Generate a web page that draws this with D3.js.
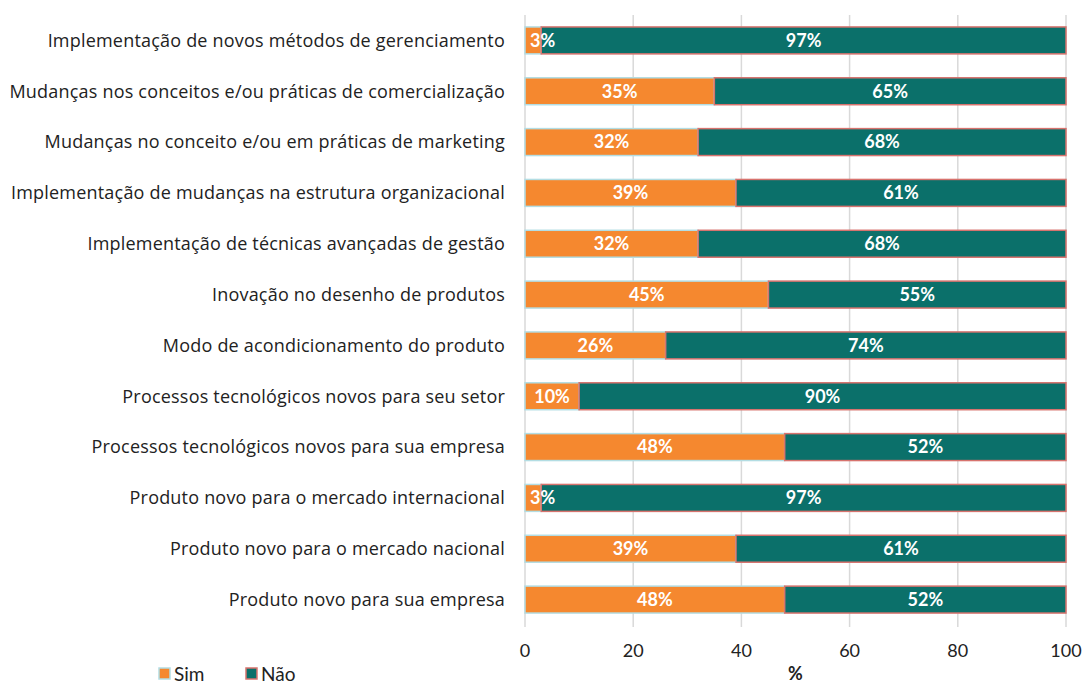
<!DOCTYPE html>
<html>
<head>
<meta charset="utf-8">
<script src="https://cdn.jsdelivr.net/npm/d3@7"></script>
<style>
  body { margin: 0; background: #fff; }
  text { font-family: Lato, "Open Sans", sans-serif; }
</style>
</head>
<body>
<div id="plot"></div>
<script>
// categories top to bottom
let categories = [
  "Implementação de novos métodos de gerenciamento",
  "Mudanças nos conceitos e/ou práticas de comercialização",
  "Mudanças no conceito e/ou em práticas de marketing",
  "Implementação de mudanças na estrutura organizacional",
  "Implementação de técnicas avançadas de gestão",
  "Inovação no desenho de produtos",
  "Modo de acondicionamento do produto",
  "Processos tecnológicos novos para seu setor",
  "Processos tecnológicos novos para sua empresa",
  "Produto novo para o mercado internacional",
  "Produto novo para o mercado nacional",
  "Produto novo para sua empresa"
]
let sim = [3, 35, 32, 39, 32, 45, 26, 10, 48, 3, 39, 48]
let nao = [97, 65, 68, 61, 68, 55, 74, 90, 52, 97, 61, 52]
let xTicks = [0, 20, 40, 60, 80, 100]
let seriesNames = ["Sim", "Não"]

let width = 1083, height = 684
let plotLeft = 525, plotRight = 1066, plotTop = 15, plotBottom = 625

let svg = d3.select('#plot').append('svg')
.attr('width', width)
.attr('height', height)

let x = d3.scaleLinear().domain([0, 100]).range([plotLeft, plotRight])
let y = d3.scaleBand().domain(categories).range([plotTop, plotBottom]).paddingInner(0.47).paddingOuter(0.235)

// gridlines
svg.append('g')
.selectAll('line').data(xTicks).enter()
.append('line')
.attr('x1', d => x(d)).attr('x2', d => x(d))
.attr('y1', plotTop).attr('y2', plotBottom + 2)
.attr('stroke', '#d9d9d9')
.attr('stroke-width', 1.5)

let rows = categories.map((c, i) => ({cat: c, sim: sim[i], nao: nao[i]}))

// Sim bars
svg.append('g')
.selectAll('rect').data(rows).enter()
.append('rect')
.attr('x', x(0))
.attr('y', d => y(d.cat))
.attr('width', d => x(d.sim) - x(0))
.attr('height', y.bandwidth())
.attr('fill', '#f5882f')
.attr('stroke', '#b3dde3')
.attr('stroke-width', 1.5)

// Nao bars
svg.append('g')
.selectAll('rect').data(rows).enter()
.append('rect')
.attr('x', d => x(d.sim))
.attr('y', d => y(d.cat))
.attr('width', d => x(d.sim + d.nao) - x(d.sim))
.attr('height', y.bandwidth())
.attr('fill', '#0b706a')
.attr('stroke', '#d7736e')
.attr('stroke-width', 1.5)

// value labels
let labels = svg.append('g')
.style('font-size', '18px')
.style('font-weight', 'bold')
.attr('fill', '#fff')

labels.selectAll('.simlab').data(rows).enter()
.append('text')
.attr('x', d => d.sim < 6 ? x(0) + 5 : (x(0) + x(d.sim)) / 2)
.attr('y', d => y(d.cat) + y.bandwidth() / 2)
.attr('dy', '0.35em')
.attr('text-anchor', d => d.sim < 6 ? 'start' : 'middle')
.text(d => d.sim + '%')

labels.selectAll('.naolab').data(rows).enter()
.append('text')
.attr('x', d => (x(d.sim) + x(d.sim + d.nao)) / 2)
.attr('y', d => y(d.cat) + y.bandwidth() / 2)
.attr('dy', '0.35em')
.attr('text-anchor', 'middle')
.text(d => d.nao + '%')

// category labels
svg.append('g')
.selectAll('text').data(categories).enter()
.append('text')
.attr('x', plotLeft - 20)
.attr('y', d => y(d) + y.bandwidth() / 2)
.attr('dy', '0.35em')
.attr('text-anchor', 'end')
.attr('fill', '#222')
.style('font-family', '"Open Sans", sans-serif')
.style('font-size', '18px')
.style('letter-spacing', '0.2px')
.text(d => d)

// x tick labels
svg.append('g')
.selectAll('text').data(xTicks).enter()
.append('text')
.attr('x', d => x(d))
.attr('y', 651)
.attr('dy', '0.35em')
.attr('text-anchor', 'middle')
.attr('fill', '#222')
.style('font-size', '18px')
.text(d => d)

svg.append('text')
.attr('x', (plotLeft + plotRight) / 2)
.attr('y', 674)
.attr('dy', '0.35em')
.attr('text-anchor', 'middle')
.attr('fill', '#222')
.style('font-size', '18px')
.style('font-weight', 'bold')
.text('%')

// legend
let legendX = [159, 246]
let legendFill = ['#f5882f', '#0b706a']
let legendStroke = ['#b3dde3', '#d7736e']
let legend = svg.append('g')
seriesNames.forEach((s, i) => {
  legend.append('rect')
  .attr('x', legendX[i])
  .attr('y', 668)
  .attr('width', 11)
  .attr('height', 11)
  .attr('fill', legendFill[i])
  .attr('stroke', legendStroke[i])
  .attr('stroke-width', 1.5)
  legend.append('text')
  .attr('x', legendX[i] + 15)
  .attr('y', 674)
  .attr('dy', '0.35em')
  .attr('fill', '#222')
  .style('font-size', '19px')
  .text(s)
})
</script>
</body>
</html>
